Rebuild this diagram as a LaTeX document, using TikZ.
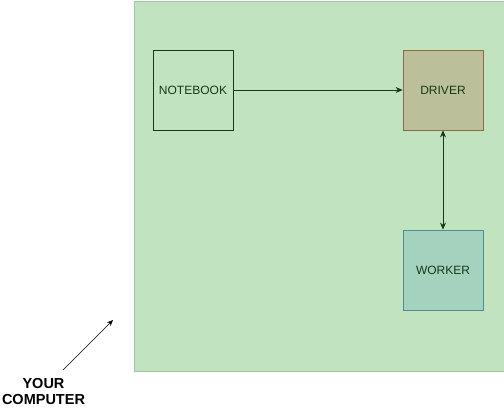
\documentclass[tikz,border=0pt]{standalone}
\usepackage{fontspec}
\setmainfont{Liberation Sans}
\usetikzlibrary{arrows.meta}
\definecolor{bgfill}{HTML}{C1E3C0}
\definecolor{bgdraw}{HTML}{9FC89E}
\definecolor{txt}{HTML}{163A16}
\definecolor{drvfill}{HTML}{BBBF9A}
\definecolor{drvdraw}{HTML}{8E6A45}
\definecolor{wkfill}{HTML}{A5D2BE}
\definecolor{wkdraw}{HTML}{4E8E93}
\begin{document}
\begin{tikzpicture}[x=1pt,y=-1pt,
  box/.style={draw=txt,line width=0.8pt,minimum width=80pt,minimum height=80pt,inner sep=0pt,font=\fontsize{12}{14}\selectfont,text=txt},
  conn/.style={draw=txt,line width=0.8pt,-{Stealth[length=7pt,width=6pt]}}]
\useasboundingbox (0,0) rectangle (504,408);
\node[draw=bgdraw,fill=bgfill,minimum width=370pt,minimum height=370pt,inner sep=0pt,anchor=north west] (comp) at (133.5,0.5) {};
\node[box,fill=bgfill] (nb) at (193,90) {NOTEBOOK};
\node[box,fill=drvfill,draw=drvdraw] (drv) at (443,90) {DRIVER};
\node[box,fill=wkfill,draw=wkdraw] (wk) at (443,270) {WORKER};
\draw[conn] (nb) -- (drv);
\draw[conn,{Stealth[length=7pt,width=6pt]}-{Stealth[length=7pt,width=6pt]}] (drv) -- (wk);
\coordinate (a0) at (63,370);
\coordinate (a1) at (113,320);
\draw[line width=0.6pt,-{Stealth[length=6pt,width=5pt]}] (a0) -- (a1);
\node[font=\bfseries\fontsize{14.5}{16.5}\selectfont,align=center,text=black,inner sep=0pt] (lbl) at (43.5,391.5) {YOUR\\COMPUTER};
\end{tikzpicture}
\end{document}
